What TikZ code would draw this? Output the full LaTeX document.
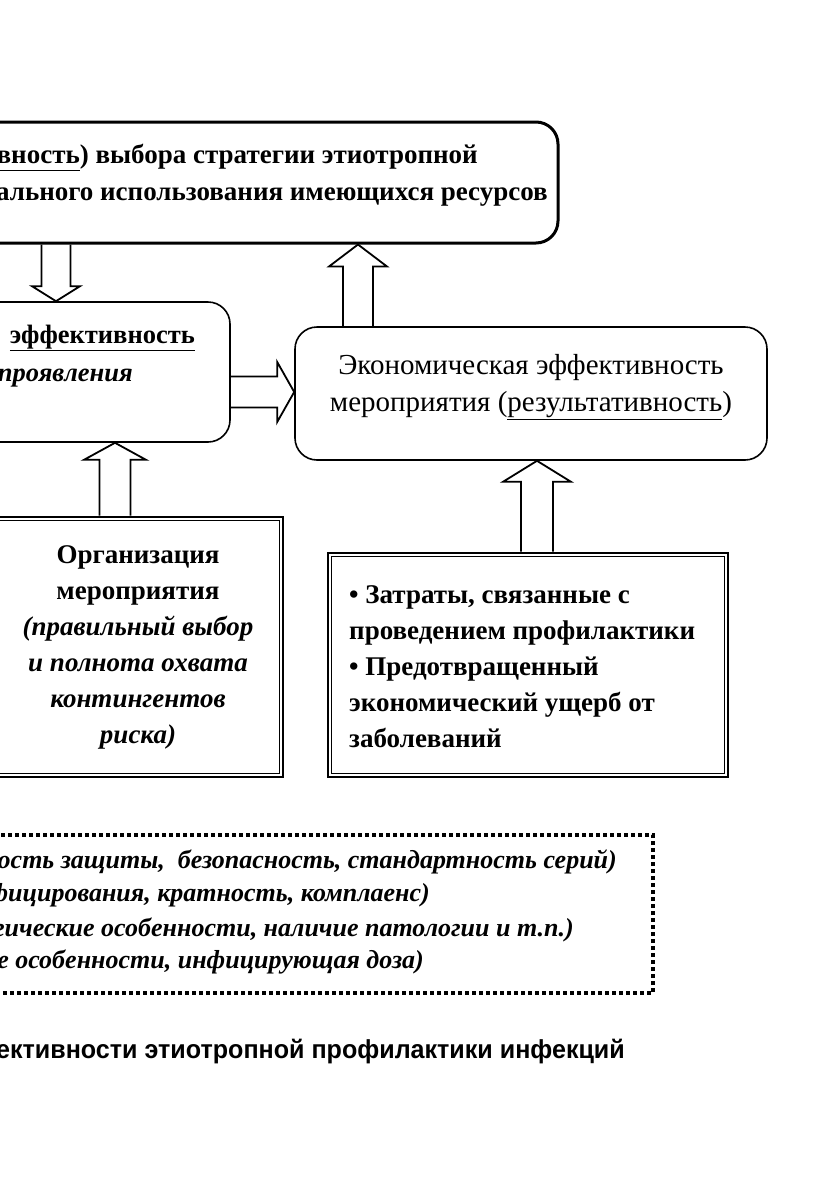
\documentclass[tikz,border=0pt]{standalone}
\usepackage{fontspec}
\setmainfont{Liberation Serif}
\newfontfamily\capfont[FakeStretch=0.965]{Liberation Sans}
\usetikzlibrary{calc}

% hollow block arrows: start, tip, half shaft, half head, head length
\newcommand\vblock[5]{%
  \draw[blockline] ($(#1)+(-#3,0)$) -- ($(#2)+(-#3,#5)$) -- ($(#2)+(-#4,#5)$) -- (#2)
    -- ($(#2)+(#4,#5)$) -- ($(#2)+(#3,#5)$) -- ($(#1)+(#3,0)$);}
\newcommand\hblock[5]{%
  \draw[blockline] ($(#1)+(0,-#3)$) -- ($(#2)+(-#5,-#3)$) -- ($(#2)+(-#5,-#4)$) -- (#2)
    -- ($(#2)+(-#5,#4)$) -- ($(#2)+(-#5,#3)$) -- ($(#1)+(0,#3)$);}

\tikzset{
  roundbox/.style={draw, rounded corners=22pt, line width=1.6pt, inner sep=0pt},
  framebox/.style={draw, line width=2.8pt, inner sep=0pt},
  innerline/.style={line width=1.1pt},
  dotbox/.style={draw, line width=3.6pt, dash pattern=on 3.6pt off 3.4pt, inner sep=0pt},
  blockline/.style={line width=1.8pt, line join=miter},
  txt/.style={inner sep=0pt},
}

\begin{document}
\begin{tikzpicture}[x=1pt, y=-1pt]
    \useasboundingbox (0,0) rectangle (824,1186);
    \clip (0,0) rectangle (824,1186);
    % boxes
    \node [roundbox, line width=3pt, minimum width=758pt, minimum height=121pt] (optim) at (179,182.5) {};
    \node [roundbox, minimum width=430pt, minimum height=140pt] (epid) at (15,372) {};
    \node [roundbox, minimum width=472pt, minimum height=133pt] (econ) at (531,393.5) {};
    \node [framebox, minimum width=293pt, minimum height=260pt] (org) at (136.5,647) {};
    \node [framebox, minimum width=400pt, minimum height=224pt] (cost) at (528,665) {};
    \draw [innerline] ($(org.north west)+(5,5)$) rectangle ($(org.south east)+(-5,-5)$);
    \draw [innerline] ($(cost.north west)+(5,5)$) rectangle ($(cost.south east)+(-5,-5)$);
    \node [dotbox, minimum width=853pt, minimum height=158pt] (factors) at (226.5,914) {};
    % texts
    \node [txt, anchor=mid east, font=\bfseries\fontsize{27}{31}\selectfont] (optim1) at (478,161)
        {(\underline{эффективность}) выбора стратегии этиотропной};
    \node [txt, anchor=mid east, font=\bfseries\fontsize{27}{31}\selectfont] (optim2) at (548,198)
        {рационального использования имеющихся ресурсов};
    \node [txt, anchor=mid east, font=\bfseries\fontsize{26.5}{30}\selectfont] (epid1) at (195,341)
        {\underline{эффективность}};
    \node [txt, anchor=mid east, font=\bfseries\itshape\fontsize{26.5}{30}\selectfont] (epid2) at (133,379)
        {проявления};
    \node [txt, align=center, font=\fontsize{29}{37}\selectfont] (econtxt) at (531,387)
        {Экономическая эффективность\\мероприятия (\underline{результативность})};
    \node [txt, align=center, font=\bfseries\fontsize{27}{36}\selectfont] (orgtxt) at (138,647)
        {Организация\\мероприятия\\\textit{(правильный выбор}\\\textit{и полнота охвата}\\
         \textit{контингентов}\\\textit{риска)}};
    \node [txt, align=left, anchor=west, font=\bfseries\fontsize{27}{36}\selectfont] (costtxt) at (349,667)
        {\textbullet\ Затраты, связанные с\\проведением профилактики\\\textbullet\ Предотвращенный\\
         экономический ущерб от\\заболеваний};
    \node [txt, anchor=mid east, font=\bfseries\itshape\fontsize{26}{30}\selectfont] (fac1) at (617,866)
        {(эффективность защиты, \ безопасность, стандартность серий)};
    \node [txt, anchor=mid east, font=\bfseries\itshape\fontsize{26}{30}\selectfont] (fac2) at (430,899)
        {инфицирования, кратность, комплаенс)};
    \node [txt, anchor=mid east, font=\bfseries\itshape\fontsize{26}{30}\selectfont] (fac3) at (574,934)
        {физиологические особенности, наличие патологии и т.п.)};
    \node [txt, anchor=mid east, font=\bfseries\itshape\fontsize{26}{30}\selectfont] (fac4) at (424,966)
        {генетические особенности, инфицирующая доза)};
    \node [txt, anchor=mid east, font=\capfont\bfseries\fontsize{26}{30}\selectfont] (caption) at (625,1056)
        {эффективности этиотропной профилактики инфекций};
    % block arrows
    \vblock{optim.south -| 56,0}{epid.north -| 56,0}{14.5}{24}{-15}
    \vblock{econ.north -| 358,0}{optim.south -| 358,0}{15}{29}{22}
    \vblock{org.north -| 115,0}{epid.south -| 115,0}{15.5}{31}{17}
    \vblock{cost.north -| 537,0}{econ.south -| 537,0}{16}{34}{21}
    \hblock{epid.east |- 0,392}{econ.west |- 0,392}{15.5}{30}{17}
\end{tikzpicture}
\end{document}
